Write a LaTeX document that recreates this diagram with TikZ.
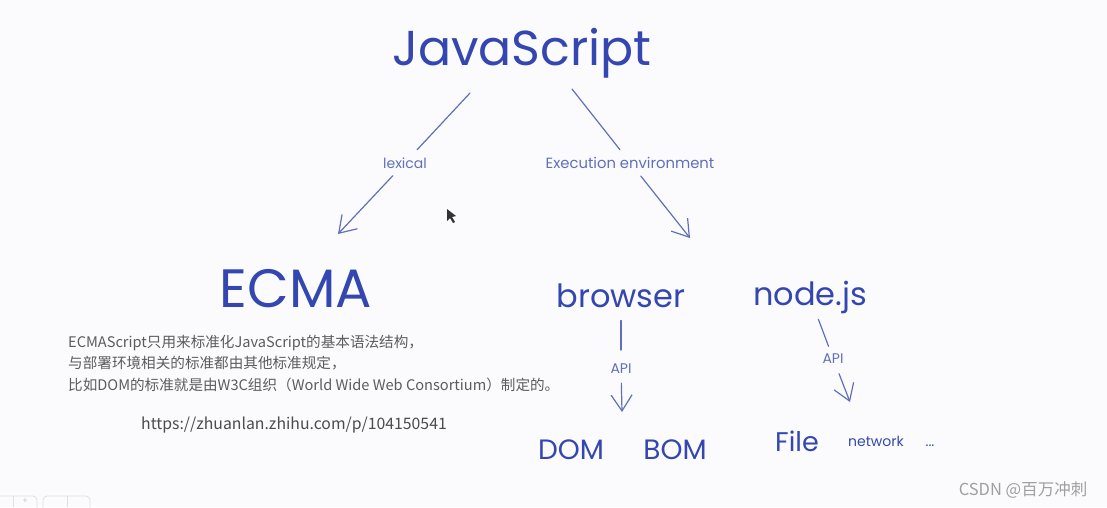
\documentclass[tikz,border=0pt]{standalone}
\usepackage{fontspec}
\setmainfont{Poppins}
\newfontfamily\cjkfont{Noto Sans CJK SC}
\usetikzlibrary{arrows.meta}
\definecolor{inkblue}{HTML}{3447B0}
\definecolor{lineblue}{HTML}{6070B8}
\definecolor{notegray}{HTML}{5C5C5C}
\definecolor{paper}{HTML}{FBFBFD}

\begin{document}
\begin{tikzpicture}[
  x=1pt,
  y=-1pt,
  headword/.style={
    text=inkblue,
    inner sep=3pt,
    anchor=base,
    font=\fontsize{49}{52}\selectfont
  },
  bigword/.style={
    text=inkblue,
    inner sep=3pt,
    anchor=base,
    font=\fontsize{54}{58}\selectfont
  },
  word/.style={
    text=inkblue,
    inner sep=3pt,
    anchor=base,
    font=\fontsize{32}{36}\selectfont
  },
  smallword/.style={
    text=inkblue,
    inner sep=3pt,
    anchor=base,
    font=\fontsize{28}{32}\selectfont
  },
  edgelabel/.style={
    text=lineblue,
    inner sep=3pt,
    anchor=base,
    font=\fontsize{14}{16}\selectfont
  },
  note/.style={
    text=notegray,
    anchor=base west,
    inner sep=0pt,
    font=\cjkfont\fontsize{14.6}{17}\selectfont
  },
  link/.style={draw=lineblue, line width=1.2pt, line cap=round},
  arrow/.style={link, -{Straight Barb[length=16pt, width=21pt, line width=1.2pt]}},
  toolbar/.style={draw=gray!25, line width=0.8pt, rounded corners=4pt}
]

\fill[paper] (0,0) rectangle (1107,507);
\useasboundingbox (0,0) rectangle (1107,507);

% top word and its two branches
\node[headword] (js) at (522,65) {JavaScript};
\node[edgelabel] (lexical) at (405,168) {lexical};
\node[edgelabel, font=\fontsize{14.8}{16}\selectfont] (exec) at (630,168) {Execution environment};
\coordinate (jsleft) at (470,93);
\coordinate (jsright) at (572,89);
\coordinate (ecmatip) at (338,234);
\coordinate (exectip) at (690,238);

\draw[link, shorten >=6pt] (jsleft) -- (lexical);
\draw[arrow, shorten <=6pt] (lexical) -- (ecmatip);
\draw[link, shorten >=5pt] (jsright) -- (exec);
\draw[arrow, shorten <=6pt] (exec) -- (exectip);

% second row
\node[bigword] (ecma) at (296,307) {ECMA};
\node[word] (browser) at (621,307) {browser};
\node[word] (nodejs) at (810,305) {node.js};

\node[note] (desc1) at (68,347) {ECMAScript只用来标准化JavaScript的基本语法结构，};
\node[note] (desc2) at (68,368) {与部署环境相关的标准都由其他标准规定，};
\node[note] (desc3) at (68,390) {比如DOM的标准就是由W3C组织（World Wide Web Consortium）制定的。};
\node[note, anchor=base, text=black!70, font=\cjkfont\fontsize{15.8}{18}\selectfont] (url) at (294,429) {https://zhuanlan.zhihu.com/p/104150541};

% API branches
\node[edgelabel] (apileft) at (621,373) {API};
\node[edgelabel] (apiright) at (833,363) {API};
\coordinate (browsertip) at (622,412);
\coordinate (nodetip) at (850,402);

\draw[link, shorten <=10pt, shorten >=10pt] (browser) -- (apileft);
\draw[arrow, shorten <=7pt] (apileft) -- (browsertip);
\draw[link, shorten <=3pt, shorten >=4pt] (nodejs) -- (apiright);
\draw[arrow, shorten <=8pt] (apiright) -- (nodetip);

% bottom row
\node[smallword] (dom) at (571,459) {DOM};
\node[smallword] (bom) at (675,459) {BOM};
\node[smallword, font=\fontsize{27}{30}\selectfont] (file) at (797,451) {File};
\node[edgelabel, text=inkblue] (network) at (876,446) {network};
\node[edgelabel, text=inkblue] (more) at (930,446) {...};

% screen leftovers
\fill[black!80] (447,209) -- (447,221) -- (450,218) -- (453,223) -- (455,222) -- (452,217) -- (456,216) -- cycle;
\draw[toolbar] (-10,496) rectangle (37,520);
\draw[toolbar] (43,496) rectangle (90,520);
\draw[gray!25, line width=0.8pt] (13,496) -- (13,507);
\draw[gray!25, line width=0.8pt] (67,496) -- (67,507);
\node[text=gray!45, font=\fontsize{8}{9}\selectfont, inner sep=0pt] (zoomin) at (25,501.5) {+};
\node[font=\cjkfont\fontsize{16.5}{19}\selectfont, text=gray!75, anchor=base] (mark) at (1023,495) {CSDN @百万冲刺};

\end{tikzpicture}
\end{document}
